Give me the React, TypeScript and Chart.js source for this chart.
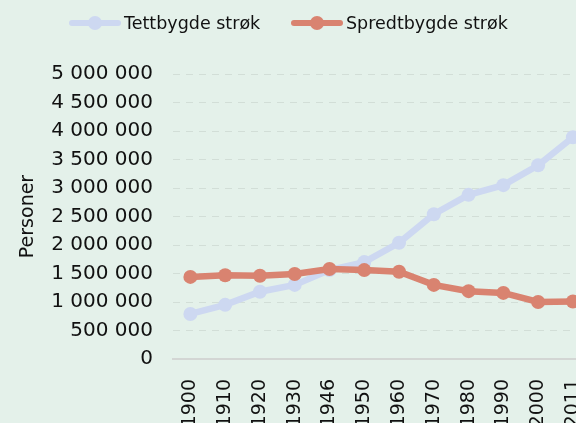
import React, { useEffect, useRef } from "react";
import { Chart, registerables } from "chart.js";
Chart.register(...registerables);

const years = ["1900", "1910", "1920", "1930", "1946", "1950", "1960", "1970", "1980", "1990", "2000", "2011"];
const tettbygde = [790000, 950000, 1180000, 1300000, 1560000, 1700000, 2040000, 2540000, 2880000, 3050000, 3400000, 3890000];
const spredtbygde = [1440000, 1470000, 1460000, 1490000, 1580000, 1560000, 1530000, 1300000, 1190000, 1160000, 1000000, 1010000];
const seriesNames = ["Tettbygde strøk", "Spredtbygde strøk"];
const yMax = 5000000;
const yStep = 500000;
const yTitle = "Personer";

const BLUE = "#cdd8f1";
const RED = "#d98370";
const BG = "#e4f1ea";
const FONT = "'DejaVu Sans', sans-serif";

const fmt = (v: number) => String(Math.round(v)).replace(/\B(?=(\d{3})+(?!\d))/g, " ");

const legendPlugin = {
  id: "customLegend",
  afterDraw(chart: any) {
    const ctx = chart.ctx;
    const items = [
      { x: 70, ds: chart.data.datasets[0] },
      { x: 292, ds: chart.data.datasets[1] },
    ];
    const y = 23;
    ctx.save();
    items.forEach((it) => {
      ctx.strokeStyle = it.ds.borderColor;
      ctx.lineWidth = 6;
      ctx.lineCap = "round";
      ctx.beginPath();
      ctx.moveTo(it.x + 2, y);
      ctx.lineTo(it.x + 48, y);
      ctx.stroke();
      ctx.fillStyle = it.ds.borderColor;
      ctx.beginPath();
      ctx.arc(it.x + 25, y, 7, 0, Math.PI * 2);
      ctx.fill();
      ctx.fillStyle = "#111";
      ctx.font = `17.5px ${FONT}`;
      ctx.textBaseline = "middle";
      ctx.textAlign = "left";
      ctx.fillText(it.ds.label, it.x + 54, y + 1);
    });
    ctx.restore();
  },
};

export default function App() {
  const ref = useRef<HTMLCanvasElement>(null);
  useEffect(() => {
    if (!ref.current) return;
    const chart = new Chart(ref.current, {
      type: "line",
      data: {
        labels: years,
        datasets: [
          {
            label: seriesNames[0],
            data: tettbygde,
            borderColor: BLUE,
            backgroundColor: BLUE,
            borderWidth: 6.5,
            pointRadius: 7,
            pointBackgroundColor: BLUE,
            pointBorderWidth: 0,
            tension: 0,
            order: 1,
          },
          {
            label: seriesNames[1],
            data: spredtbygde,
            borderColor: RED,
            backgroundColor: RED,
            borderWidth: 6.5,
            pointRadius: 7,
            pointBackgroundColor: RED,
            pointBorderWidth: 0,
            tension: 0,
            order: 0,
          },
        ],
      },
      options: {
        responsive: false,
        animation: false,
        layout: { padding: { top: 74, left: 0, right: 2, bottom: 0 } },
        plugins: { legend: { display: false }, tooltip: { enabled: false } },
        scales: {
          x: {
            type: "category",
            offset: true,
            grid: { display: false },
            border: { display: true, color: "#d3d6d4", width: 2 },
            ticks: {
              autoSkip: false,
              maxRotation: 90,
              minRotation: 90,
              padding: 12,
              color: "#111",
              font: { family: FONT, size: 19 },
            },
            afterFit: (s: any) => {
              s.height = 111;
            },
          },
          y: {
            min: 0,
            max: yMax,
            ticks: {
              stepSize: yStep,
              padding: 20,
              color: "#111",
              font: { family: FONT, size: 20 },
              callback: (v: any) => fmt(Number(v)),
            },
            grid: { color: "rgba(0,0,0,0.08)", drawTicks: false, lineWidth: 1 },
            border: { display: false, dash: [7, 6] },
            title: {
              display: true,
              text: yTitle,
              color: "#111",
              font: { family: FONT, size: 19 },
              padding: { top: 17, bottom: 0 },
            },
            afterFit: (s: any) => {
              s.width = 173;
            },
          },
        },
      },
      plugins: [legendPlugin],
    });
    return () => chart.destroy();
  }, []);
  return (
    <div
      style={{
        position: "fixed",
        top: 0,
        left: 0,
        width: 576,
        height: 423,
        overflow: "hidden",
        background: BG,
      }}
    >
      <canvas ref={ref} width={608} height={470} style={{ display: "block" }} />
    </div>
  );
}
